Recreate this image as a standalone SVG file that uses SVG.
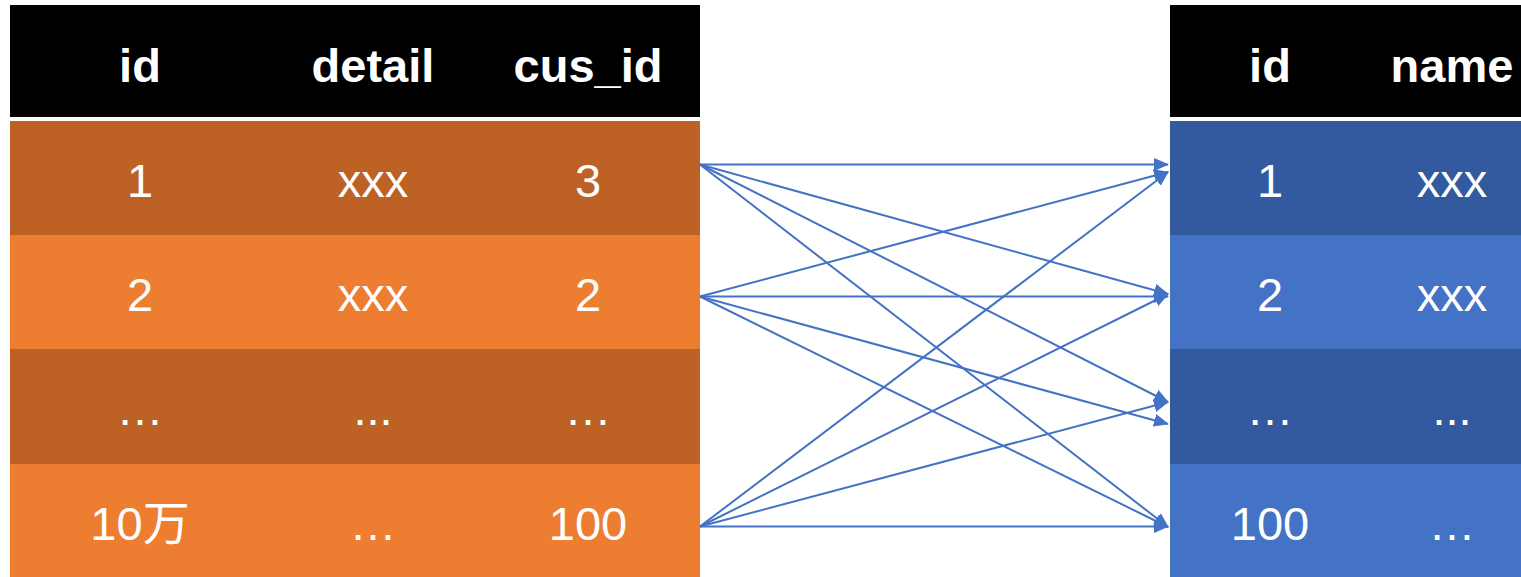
<svg xmlns="http://www.w3.org/2000/svg" width="1521" height="577" viewBox="0 0 1521 577">
<style>
text{font-family:"Liberation Sans","Noto Sans CJK SC",Arial,sans-serif;fill:#fff;text-anchor:middle;font-size:47px}
.h{font-weight:bold}
.hd{fill:#000}
.o1{fill:#BD6124}
.o2{fill:#ED7D31}
.b1{fill:#335A9F}
.b2{fill:#4472C4}
.sep{fill:#fff;stroke:#d9d9d9;stroke-width:1}
.c line{stroke:#4472C4;stroke-width:2;marker-end:url(#ah)}
</style>
<defs>
<marker id="ah" markerUnits="userSpaceOnUse" markerWidth="16" markerHeight="14" refX="14" refY="6.5" orient="auto" viewBox="0 0 16 13">
<path d="M0,0 L15,6.5 L0,13 z" fill="#4472C4"/>
</marker>
</defs>
<rect width="1521" height="577" fill="#fff"/>
<g id="orders">
<rect class="hd" x="10" y="5" width="690" height="112"/>
<rect class="o1" x="10" y="121" width="690" height="114"/>
<rect class="o2" x="10" y="235" width="690" height="114"/>
<rect class="o1" x="10" y="349" width="690" height="115"/>
<rect class="o2" x="10" y="464" width="690" height="113"/>
<text class="h" x="140" y="82">id</text>
<text class="h" x="373" y="82">detail</text>
<text class="h" x="588" y="82">cus_id</text>
<text x="140" y="197">1</text>
<text x="373" y="197">xxx</text>
<text x="588" y="197">3</text>
<text x="140" y="311">2</text>
<text x="373" y="311">xxx</text>
<text x="588" y="311">2</text>
<text x="140" y="425">…</text>
<text x="373" y="425">...</text>
<text x="588" y="425">…</text>
<text x="140" y="540">10万</text>
<text x="373" y="540">…</text>
<text x="588" y="540">100</text>
</g>
<g id="customers">
<rect class="hd" x="1170" y="5" width="351" height="112"/>
<rect class="b1" x="1170" y="121" width="351" height="114"/>
<rect class="b2" x="1170" y="235" width="351" height="114"/>
<rect class="b1" x="1170" y="349" width="351" height="115"/>
<rect class="b2" x="1170" y="464" width="351" height="113"/>
<text class="h" x="1270" y="82">id</text>
<text class="h" x="1452" y="82">name</text>
<text x="1270" y="197">1</text>
<text x="1452" y="197">xxx</text>
<text x="1270" y="311">2</text>
<text x="1452" y="311">xxx</text>
<text x="1270" y="425">…</text>
<text x="1452" y="425">...</text>
<text x="1270" y="540">100</text>
<text x="1452" y="540">…</text>
</g>
<g id="connectors" class="c">
<line x1="700" y1="164.5" x2="1168" y2="164.5"/>
<line x1="700" y1="164.5" x2="1168" y2="294"/>
<line x1="700" y1="164.5" x2="1168" y2="402"/>
<line x1="700" y1="164.5" x2="1168" y2="527"/>
<line x1="700" y1="296.5" x2="1168" y2="172"/>
<line x1="700" y1="296.5" x2="1168" y2="296.5"/>
<line x1="700" y1="296.5" x2="1168" y2="424"/>
<line x1="700" y1="296.5" x2="1168" y2="527"/>
<line x1="700" y1="526.5" x2="1168" y2="172"/>
<line x1="700" y1="526.5" x2="1168" y2="294"/>
<line x1="700" y1="526.5" x2="1168" y2="402"/>
<line x1="700" y1="526.5" x2="1168" y2="526.5"/>
</g>
</svg>
